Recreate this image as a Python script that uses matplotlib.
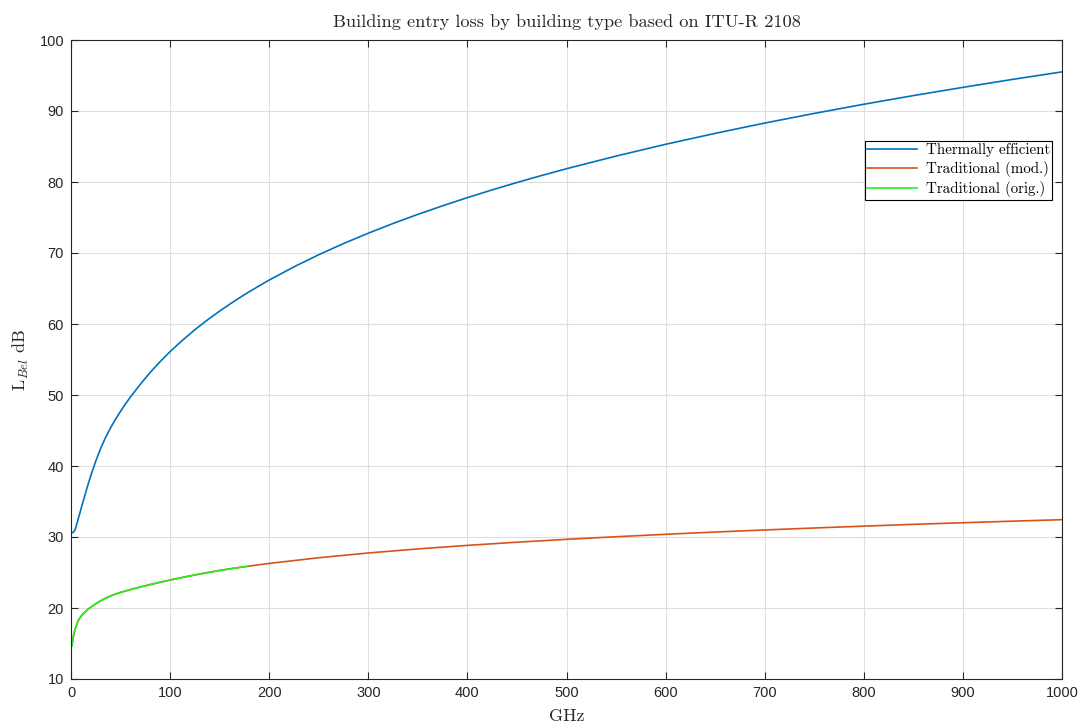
import matplotlib
matplotlib.use("Agg")
import matplotlib.pyplot as plt

# Median building entry loss (dB) against frequency (GHz)
freq_te = [1, 2, 3, 4, 5, 6, 7, 8, 10, 12, 15, 17, 20, 25, 30, 35, 40,
           45, 50, 55, 60, 70, 80, 90, 100, 112, 125, 137, 150, 162, 175,
           187, 200, 225, 250, 275, 300, 325, 350, 375, 400, 425, 450,
           475, 500, 550, 600, 650, 700, 750, 800, 850, 900, 950, 1000]
loss_te = [30.6, 30.65, 30.75, 31.0, 31.4, 31.9, 32.4, 32.9, 33.9, 34.9,
           36.35, 37.3, 38.65, 40.7, 42.5, 44.05, 45.4, 46.6, 47.7, 48.75,
           49.72, 51.52, 53.19, 54.71, 56.11, 57.65, 59.19, 60.5, 61.82,
           62.96, 64.13, 65.14, 66.19, 68.05, 69.76, 71.33, 72.79, 74.16,
           75.44, 76.65, 77.8, 78.89, 79.93, 80.92, 81.87, 83.65, 85.31,
           86.85, 88.3, 89.66, 90.95, 92.17, 93.33, 94.45, 95.51]

freq_trad = [1, 2, 3, 4, 5, 6, 7, 8, 10, 12, 15, 17, 20, 25, 30, 35, 40,
             45, 50, 60, 70, 80, 90, 100, 112, 125, 137, 150, 162, 178,
             200, 250, 300, 350, 400, 450, 500, 550, 600, 650, 700, 750,
             800, 850, 900, 950, 1000]
loss_trad = [14.7, 15.7, 16.4, 16.9, 17.35, 17.75, 18.1, 18.4, 18.8, 19.15,
             19.55, 19.8, 20.12, 20.6, 21.02, 21.38, 21.7, 21.97, 22.2, 22.6,
             22.96, 23.3, 23.63, 23.94, 24.29, 24.66, 24.97, 25.28, 25.55,
             25.87, 26.28, 27.08, 27.75, 28.32, 28.82, 29.27, 29.67, 30.04,
             30.38, 30.7, 30.99, 31.27, 31.53, 31.78, 32.01, 32.23, 32.44]

# The original traditional model is only defined up to this frequency
orig_limit = 178
freq_orig = [f for f in freq_trad if f <= orig_limit]
loss_orig = loss_trad[:len(freq_orig)]

series_labels = ["Thermally efficient", "Traditional (mod.)", "Traditional (orig.)"]
x_ticks = list(range(0, 1001, 100))
y_ticks = list(range(10, 101, 10))

plt.rcParams["mathtext.fontset"] = "cm"
plt.rcParams["axes.unicode_minus"] = False

dark = "#262626"
serif = "cmr10"

fig = plt.figure(figsize=(10.85, 7.25), dpi=100)
ax = fig.add_axes([71 / 1085, 1 - 679 / 725, (1062 - 71) / 1085, (679 - 40) / 725])

ax.plot(freq_te, loss_te, color="#0072BD", lw=1.2, label=series_labels[0])
ax.plot(freq_trad, loss_trad, color="#D95319", lw=1.2, label=series_labels[1])
ax.plot(freq_orig, loss_orig, color="#22F022", lw=1.2, label=series_labels[2])

ax.set_xlim(0, 1000)
ax.set_ylim(10, 100)
ax.set_xticks(x_ticks)
ax.set_yticks(y_ticks)
ax.grid(True, color="#dedede", lw=0.8)
ax.set_axisbelow(True)

ax.tick_params(direction="in", length=5, width=0.8, colors=dark,
               top=True, right=True, labelsize=10.5, pad=5)
for lab in ax.get_xticklabels() + ax.get_yticklabels():
    lab.set_fontfamily("Liberation Sans")
for sp in ax.spines.values():
    sp.set_color(dark)
    sp.set_linewidth(0.8)

ax.set_title("Building entry loss by building type based on ITU-R 2108",
             fontfamily=serif, fontsize=13.2, color=dark, pad=9)
ax.set_xlabel("GHz", fontfamily=serif, fontsize=13, color=dark, labelpad=6)
ax.set_ylabel(r"L$_{Bel}$ dB", fontfamily=serif, fontsize=13, color=dark, labelpad=6)

leg = ax.legend(loc="upper right", bbox_to_anchor=(0.99, 0.842),
                borderaxespad=0, fancybox=False, framealpha=1,
                edgecolor="black", handlelength=3.3, handletextpad=0.6,
                borderpad=0.15, labelspacing=0.27,
                prop={"family": serif, "size": 10.8})
leg.get_frame().set_linewidth(0.8)

fig.savefig("out.png", dpi=100)
